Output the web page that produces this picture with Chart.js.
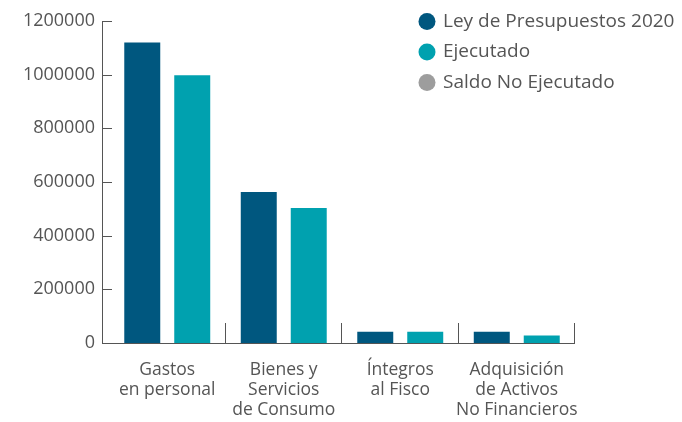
<!DOCTYPE html>
<html>
<head>
<meta charset="utf-8">
<script src="https://cdn.jsdelivr.net/npm/chart.js@4"></script>
<style>
  html, body { margin: 0; padding: 0; background: #fff; }
  #wrap { width: 682px; height: 422px; }
</style>
</head>
<body>
<div id="wrap"><canvas id="budgetChart"></canvas></div>
<script>
// data
var categories = [
    ['Gastos', 'en personal'],
    ['Bienes y', 'Servicios', 'de Consumo'],
    ['Íntegros', 'al Fisco'],
    ['Adquisición', 'de Activos', 'No Financieros']
];
var leyPresupuestos = [1120000, 563000, 42000, 42000];
var ejecutado = [998000, 503000, 42000, 28000];
var yTicks = [0, 200000, 400000, 600000, 800000, 1000000, 1200000];
var legendLabels = ['Ley de Presupuestos 2020', 'Ejecutado', 'Saldo No Ejecutado'];
var legendColors = ['#00577f', '#00a1af', '#9d9d9d'];

var textColor = '#555555';
var axisColor = '#555555';
var font = 'Open Sans';

// axis lines with inside ticks, plus the legend in the top right corner
var axesAndLegend = {
    id: 'axesAndLegend',
    afterDraw: function (chart) {
        var ctx = chart.ctx;
        var area = chart.chartArea;
        var x = chart.scales.x;
        var y = chart.scales.y;
        var axisX = area.left - 7;
        ctx.save();
        ctx.strokeStyle = axisColor;
        ctx.lineWidth = 1;
        ctx.beginPath();
        ctx.moveTo(axisX + 0.5, Math.round(y.getPixelForValue(yTicks[yTicks.length - 1])));
        ctx.lineTo(axisX + 0.5, area.bottom + 0.5);
        ctx.lineTo(area.right, area.bottom + 0.5);
        yTicks.forEach(function (v) {
            var py = Math.round(y.getPixelForValue(v)) + 0.5;
            ctx.moveTo(axisX, py);
            ctx.lineTo(axisX + 10, py);
        });
        var w = (area.right - area.left) / categories.length;
        for (var i = 0; i < categories.length; i++) {
            var px = Math.round(x.getPixelForValue(i) + w / 2) - 0.5;
            ctx.moveTo(px, area.bottom);
            ctx.lineTo(px, area.bottom - 20);
        }
        ctx.stroke();

        ctx.font = '19px "' + font + '"';
        ctx.textBaseline = 'middle';
        ctx.textAlign = 'left';
        for (var j = 0; j < legendLabels.length; j++) {
            var cy = 21.5 + j * 30.5;
            ctx.fillStyle = legendColors[j];
            ctx.beginPath();
            ctx.arc(427, cy, 8.5, 0, Math.PI * 2);
            ctx.fill();
            ctx.fillStyle = textColor;
            ctx.fillText(legendLabels[j], 443, cy);
        }
        ctx.restore();
    }
};

var ctx = document.getElementById('budgetChart').getContext('2d');
var chart = new Chart(ctx, {
    type: 'bar',
    data: {
        labels: categories,
        datasets: [{
            label: legendLabels[0],
            data: leyPresupuestos,
            backgroundColor: legendColors[0]
        }, {
            label: legendLabels[1],
            data: ejecutado,
            backgroundColor: legendColors[1]
        }]
    },
    options: {
        responsive: true,
        maintainAspectRatio: false,
        animation: false,
        categoryPercentage: 0.858,
        barPercentage: 0.72,
        layout: { padding: { left: 0, right: 107, top: 21, bottom: 0 } },
        plugins: {
            legend: { display: false },
            tooltip: { enabled: false }
        },
        scales: {
            x: {
                grid: { display: false, drawTicks: false, tickLength: 0 },
                border: { display: false },
                ticks: {
                    color: textColor,
                    font: { family: font, size: 17.5, lineHeight: 1.15 },
                    padding: 17,
                    maxRotation: 0,
                    autoSkip: false
                },
                afterFit: function (scale) { scale.height = 79; }
            },
            y: {
                min: 0,
                max: yTicks[yTicks.length - 1],
                grid: { display: false, drawTicks: false, tickLength: 0 },
                border: { display: false },
                ticks: {
                    color: textColor,
                    font: { family: font, size: 18 },
                    padding: 14,
                    callback: function (v) { return String(v); }
                },
                afterBuildTicks: function (scale) {
                    scale.ticks = yTicks.map(function (v) { return { value: v }; });
                },
                afterFit: function (scale) {
                    scale.width = 109;
                    scale.paddingTop = 0;
                    scale.paddingBottom = 0;
                }
            }
        }
    },
    plugins: [axesAndLegend]
});
</script>
</body>
</html>
